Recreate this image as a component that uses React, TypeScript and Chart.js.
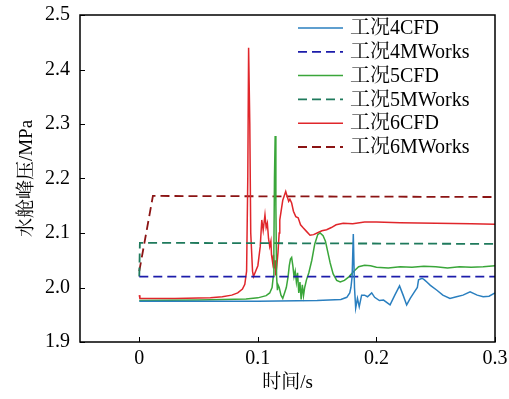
import React, { useEffect, useRef } from "react";
import { Chart, registerables } from "chart.js";

Chart.register(...registerables);

// ---- data ----
const xTicks = [0, 0.1, 0.2, 0.3];
const yTicks = [1.9, 2.0, 2.1, 2.2, 2.3, 2.4, 2.5];

const seriesLabels = ["工况4CFD", "工况4MWorks", "工况5CFD", "工况5MWorks", "工况6CFD", "工况6MWorks"];

const t4cfd = [0, 0.1, 0.15, 0.17, 0.175, 0.1775, 0.1785, 0.1795, 0.1805, 0.1815, 0.1825, 0.184, 0.1855, 0.1875, 0.19, 0.1925, 0.196, 0.1985, 0.2025, 0.206, 0.2115, 0.2155, 0.2195, 0.2225, 0.2255, 0.2285, 0.2315, 0.2345, 0.2355, 0.2385, 0.2405, 0.2425, 0.2455, 0.251, 0.256, 0.262, 0.2675, 0.273, 0.279, 0.285, 0.29, 0.295, 0.3];
const p4cfd = [1.975, 1.975, 1.976, 1.978, 1.982, 1.99, 2.0, 2.02, 2.098, 2.0, 1.962, 1.98, 1.965, 1.986, 1.986, 1.983, 1.99, 1.982, 1.976, 1.977, 1.968, 1.986, 2.003, 1.986, 1.968, 1.98, 1.99, 2.0, 2.014, 2.017, 2.014, 2.01, 2.004, 1.995, 1.986, 1.98, 1.983, 1.986, 1.992, 1.986, 1.983, 1.984, 1.99];

const t4mw = [0, 0.3];
const p4mw = [2.02, 2.02];

const t5cfd = [0, 0.05, 0.09, 0.1, 0.107, 0.11, 0.112, 0.113, 0.1135, 0.114, 0.1146, 0.1152, 0.1158, 0.1165, 0.117, 0.118, 0.1195, 0.121, 0.1225, 0.124, 0.1255, 0.1265, 0.1275, 0.1285, 0.1295, 0.1305, 0.1315, 0.1325, 0.1335, 0.1345, 0.1355, 0.1365, 0.1375, 0.1385, 0.1395, 0.141, 0.143, 0.1455, 0.148, 0.1505, 0.1525, 0.155, 0.157, 0.159, 0.161, 0.1635, 0.1665, 0.1695, 0.173, 0.177, 0.181, 0.185, 0.19, 0.195, 0.2, 0.21, 0.22, 0.23, 0.24, 0.25, 0.26, 0.27, 0.28, 0.29, 0.3];
const p5cfd = [1.976, 1.977, 1.979, 1.981, 1.985, 1.99, 2.0, 2.02, 2.07, 2.2, 2.278, 2.15, 2.02, 1.995, 2.005, 2.0, 1.986, 1.98, 1.99, 2.0, 2.02, 2.04, 2.052, 2.055, 2.04, 2.02, 2.03, 2.01, 2.027, 1.99, 2.01, 1.978, 2.005, 1.985, 2.0, 2.014, 2.027, 2.05, 2.08, 2.097, 2.1, 2.095, 2.085, 2.065, 2.045, 2.025, 2.013, 2.01, 2.013, 2.02, 2.03, 2.038, 2.041, 2.04, 2.037, 2.036, 2.038, 2.037, 2.039, 2.038, 2.036, 2.038, 2.037, 2.038, 2.04];

const t5mw = [0, 0.0005, 0.3];
const p5mw = [2.02, 2.082, 2.08];

const t6cfd = [0, 0.0005, 0.03, 0.06, 0.07, 0.078, 0.083, 0.087, 0.089, 0.0905, 0.0915, 0.0922, 0.0932, 0.094, 0.0955, 0.0963, 0.1, 0.102, 0.1033, 0.1045, 0.106, 0.107, 0.108, 0.109, 0.110, 0.111, 0.1115, 0.1125, 0.1132, 0.1138, 0.1145, 0.115, 0.116, 0.117, 0.118, 0.1185, 0.121, 0.1235, 0.125, 0.126, 0.127, 0.1285, 0.13, 0.132, 0.134, 0.136, 0.138, 0.141, 0.144, 0.147, 0.15, 0.154, 0.158, 0.162, 0.166, 0.172, 0.18, 0.19, 0.2, 0.22, 0.25, 0.28, 0.3];
const p6cfd = [1.986, 1.98, 1.98, 1.981, 1.983, 1.986, 1.99, 1.997, 2.006, 2.03, 2.2, 2.44, 2.3, 2.1, 2.03, 2.02, 2.04, 2.075, 2.124, 2.105, 2.133, 2.11, 2.118, 2.09, 2.075, 2.085, 2.06, 2.045, 2.06, 2.035, 2.05, 2.022, 2.04, 2.065, 2.1, 2.124, 2.16, 2.176, 2.165, 2.158, 2.162, 2.155, 2.14, 2.13, 2.128, 2.115, 2.11, 2.103, 2.096, 2.097, 2.1, 2.104, 2.106, 2.11, 2.115, 2.118, 2.117, 2.12, 2.12, 2.119, 2.118, 2.117, 2.116];

const t6mw = [0, 0.0115, 0.3];
const p6mw = [2.03, 2.168, 2.166];

const colors = ["#2a7fbf", "#1c1caa", "#3aa63a", "#1f7a5c", "#e0262b", "#8b1414"];

const FONT = "'Times New Roman', 'Liberation Serif', 'Noto Serif CJK SC', 'Noto Sans CJK SC', serif";

const toPts = (t: number[], p: number[]) => t.map((x, i) => ({ x, y: p[i] }));

export default function App() {
  const ref = useRef<HTMLCanvasElement | null>(null);

  useEffect(() => {
    if (!ref.current) return;
    const series = [
      [t4cfd, p4cfd, false],
      [t4mw, p4mw, true],
      [t5cfd, p5cfd, false],
      [t5mw, p5mw, true],
      [t6cfd, p6cfd, false],
      [t6mw, p6mw, true],
    ] as [number[], number[], boolean][];

    const datasets = series.map(([t, p, dashed], i) => ({
      label: seriesLabels[i],
      data: toPts(t, p),
      borderColor: colors[i],
      backgroundColor: colors[i],
      borderWidth: dashed ? 1.8 : 1.5,
      borderDash: dashed ? [9, 5] : [],
      pointRadius: 0,
      tension: 0,
      fill: false,
    }));

    const framePlugin = {
      id: "frame",
      afterDraw(chart: any) {
        const ctx: CanvasRenderingContext2D = chart.ctx;
        const area = chart.chartArea;
        const left = area.left, right = area.right, top = area.top, bottom = area.bottom;
        const xs = chart.scales.x;
        const ys = chart.scales.y;
        ctx.save();
        ctx.globalAlpha = 1;
        ctx.globalCompositeOperation = "source-over";
        ctx.setLineDash([]);
        ctx.strokeStyle = "#000000";
        ctx.lineWidth = 1.5;
        ctx.beginPath();
        ctx.moveTo(left, top);
        ctx.lineTo(right, top);
        ctx.lineTo(right, bottom);
        ctx.lineTo(left, bottom);
        ctx.closePath();
        ctx.stroke();

        ctx.lineWidth = 1;
        ctx.beginPath();
        xTicks.forEach((v) => {
          const px = Math.round(xs.getPixelForValue(v)) + 0.5;
          ctx.moveTo(px, bottom);
          ctx.lineTo(px, bottom - 5);
        });
        yTicks.forEach((v) => {
          const py = Math.round(ys.getPixelForValue(v)) + 0.5;
          ctx.moveTo(left, py);
          ctx.lineTo(left + 5, py);
        });
        ctx.stroke();

        // axis titles
        ctx.fillStyle = "#000";
        ctx.font = `19px ${FONT}`;
        ctx.textAlign = "center";
        ctx.textBaseline = "middle";
        ctx.fillText("时间/s", (left + right) / 2, 383);
        ctx.save();
        ctx.translate(27, (top + bottom) / 2);
        ctx.rotate(-Math.PI / 2);
        ctx.fillText("水舱峰压/MPa", 0, 0);
        ctx.restore();

        // legend
        ctx.font = `20px ${FONT}`;
        ctx.textAlign = "left";
        chart.data.datasets.forEach((ds: any, i: number) => {
          const y = 28 + i * 23.8;
          ctx.strokeStyle = ds.borderColor;
          ctx.lineWidth = ds.borderWidth;
          ctx.setLineDash(ds.borderDash || []);
          ctx.beginPath();
          ctx.moveTo(298, y);
          ctx.lineTo(343, y);
          ctx.stroke();
          ctx.setLineDash([]);
          ctx.fillStyle = "#000";
          ctx.fillText(ds.label, 350, y + 1);
        });
        ctx.restore();
      },
    };

    const chart = new Chart(ref.current, {
      type: "line",
      data: { datasets },
      options: {
        animation: false,
        responsive: false,
        devicePixelRatio: 1,
        layout: { padding: { left: 0, top: 15, right: 14, bottom: 0 } },
        plugins: { legend: { display: false }, tooltip: { enabled: false } },
        scales: {
          x: {
            type: "linear",
            min: -0.05,
            max: 0.3,
            grid: { display: false, drawTicks: false },
            border: { display: false },
            afterBuildTicks: (s: any) => {
              s.ticks = xTicks.map((v) => ({ value: v }));
            },
            afterFit: (s: any) => {
              s.height = 57;
              s.paddingLeft = 0;
              s.paddingRight = 0;
              s.paddingTop = 0;
              s.paddingBottom = 0;
            },
            ticks: {
              color: "#000",
              padding: 5,
              maxRotation: 0,
              font: { family: FONT, size: 20 },
              callback: (v: any) => (Number(v) === 0 ? "0" : String(+Number(v).toFixed(1))),
            },
          },
          y: {
            type: "linear",
            min: 1.9,
            max: 2.5,
            grid: { display: false, drawTicks: false },
            border: { display: false },
            afterBuildTicks: (s: any) => {
              s.ticks = yTicks.map((v) => ({ value: v }));
            },
            afterFit: (s: any) => {
              s.width = 80;
              s.paddingLeft = 0;
              s.paddingRight = 0;
              s.paddingTop = 0;
              s.paddingBottom = 0;
            },
            ticks: {
              color: "#000",
              padding: 10,
              font: { family: FONT, size: 20 },
              callback: (v: any) => Number(v).toFixed(1),
            },
          },
        },
      },
      plugins: [framePlugin],
    } as any);

    return () => chart.destroy();
  }, []);

  return (
    <div style={{ position: "absolute", left: 0, top: 0, width: 509, height: 399, background: "#fff" }}>
      <canvas ref={ref} width={509} height={399} style={{ width: 509, height: 399 }} />
    </div>
  );
}
